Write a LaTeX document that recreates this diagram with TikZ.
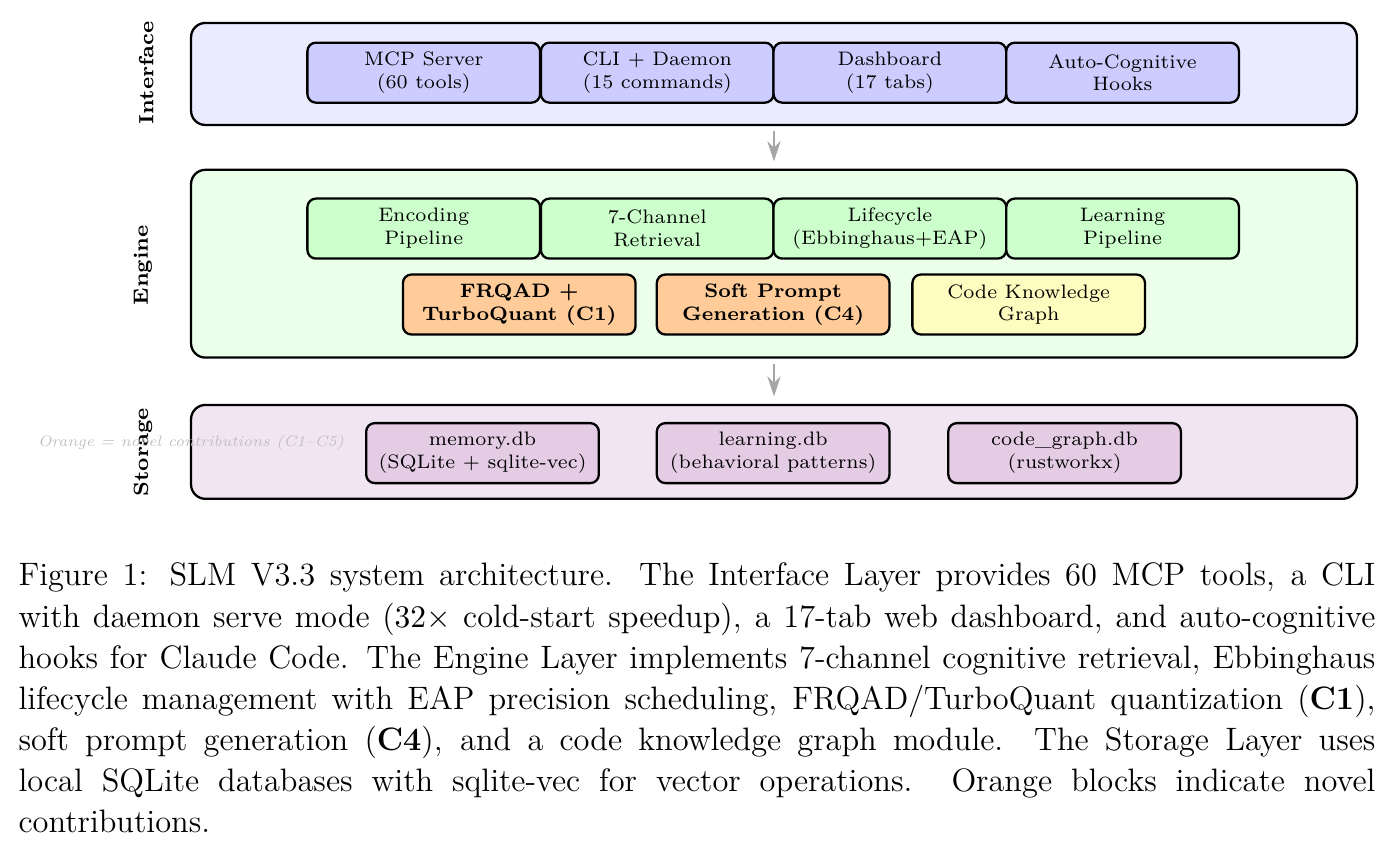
\documentclass[tikz,border=0pt]{standalone}
\usepackage{fontspec}
\newfontfamily\plainlm{Latin Modern Roman}
\usepackage{tikz}
\usetikzlibrary{calc,arrows.meta}

\tikzset{
	layerbox/.style={draw=black, thick, rounded corners=5pt, inner sep=0pt, minimum width=14.28cm},
	modbox/.style={draw=black, thick, rounded corners=3pt, minimum width=2.85cm, minimum height=0.735cm, align=center, font=\plainlm\fontsize{6.8}{8}\selectfont, inner sep=1pt},
	keybox/.style={modbox, fill=orange!40, font=\plainlm\fontsize{6.8}{8}\selectfont\bfseries},
	layertag/.style={rotate=90, font=\plainlm\fontsize{7.2}{8}\selectfont\bfseries},
	flowarrow/.style={-{Stealth[length=7pt,width=4.6pt]}, draw=gray!70, thick},
}

\begin{document}
\begin{tikzpicture}
			%%%%% START %%%%%
			\useasboundingbox (0, 0) rectangle (17.05, -10.43);
			
			% layers
			\node[layerbox, fill=blue!8, minimum height=1.25cm] (iface) at (9.48, -0.906) {};
			\node[layerbox, fill=green!8, minimum height=2.30cm] (engine) at (9.48, -3.23) {};
			\node[layerbox, fill=violet!10, minimum height=1.15cm] (storage) at (9.48, -5.535) {};
			
			\node[layertag] (ifacetag) at (1.79, -0.89) {Interface};
			\node[layertag] (enginetag) at (1.75, -3.25) {Engine};
			\node[layertag] (storagetag) at (1.75, -5.54) {Storage};
			
			% interface
			\node[modbox, fill=blue!20] (mcp) at (5.19, -0.89) {MCP Server\\(60 tools)};
			\node[modbox, fill=blue!20] (cli) at (8.05, -0.89) {CLI + Daemon\\(15 commands)};
			\node[modbox, fill=blue!20] (dash) at (10.90, -0.89) {Dashboard\\(17 tabs)};
			\node[modbox, fill=blue!20] (hooks) at (13.75, -0.89) {Auto-Cognitive\\Hooks};
			
			% engine
			\node[modbox, fill=green!20] (encode) at (5.19, -2.80) {Encoding\\Pipeline};
			\node[modbox, fill=green!20] (retrieve) at (8.05, -2.80) {7-Channel\\Retrieval};
			\node[modbox, fill=green!20] (life) at (10.90, -2.80) {Lifecycle\\(Ebbinghaus+EAP)};
			\node[modbox, fill=green!20] (learn) at (13.75, -2.80) {Learning\\Pipeline};
			
			\node[keybox] (frqad) at (6.36, -3.73) {FRQAD +\\TurboQuant (C1)};
			\node[keybox] (soft) at (9.47, -3.73) {Soft Prompt\\Generation (C4)};
			\node[modbox, fill=yellow!25] (codekg) at (12.60, -3.73) {Code Knowledge\\Graph};
			
			% storage
			\node[modbox, fill=violet!20] (memdb) at (5.91, -5.55) {memory.db\\(SQLite + sqlite-vec)};
			\node[modbox, fill=violet!20] (learndb) at (9.47, -5.55) {learning.db\\(behavioral patterns)};
			\node[modbox, fill=violet!20] (codedb) at (13.04, -5.55) {code\_graph.db\\(rustworkx)};
			
			\node[font=\fontsize{5.3}{6}\selectfont\itshape, text=gray!50] (note) at (2.34, -5.42) {Orange = novel contributions (C1--C5)};
			
			% flow
			\draw[flowarrow, shorten <=0.06cm, shorten >=0.09cm] (iface.south) -- (engine.north);
			\draw[flowarrow, shorten <=0.06cm, shorten >=0.09cm] (engine.south) -- (storage.north);
			
			% caption
			\node[anchor=north west, text width=16.62cm, align=justify, inner sep=0pt, font=\fontsize{11.3}{14.35}\selectfont] (caption) at (0.22, -6.89) {\hyphenpenalty=10000 \exhyphenpenalty=10000 Figure 1: SLM V3.3 system architecture. The Interface Layer provides 60 MCP tools, a CLI\linebreak
			with daemon serve mode ($32\times$ cold-start speedup), a 17-tab web dashboard, and auto-cognitive\linebreak
			hooks for Claude Code. The Engine Layer implements 7-channel cognitive retrieval, Ebbinghaus\linebreak
			lifecycle management with EAP precision scheduling, FRQAD/TurboQuant quantization (\textbf{C1}),\linebreak
			soft prompt generation (\textbf{C4}), and a code knowledge graph module. The Storage Layer uses\linebreak
			local SQLite databases with sqlite-vec for vector operations.  Orange blocks indicate novel\linebreak
			contributions.};
			%%%%% END %%%%%
\end{tikzpicture}
\end{document}
